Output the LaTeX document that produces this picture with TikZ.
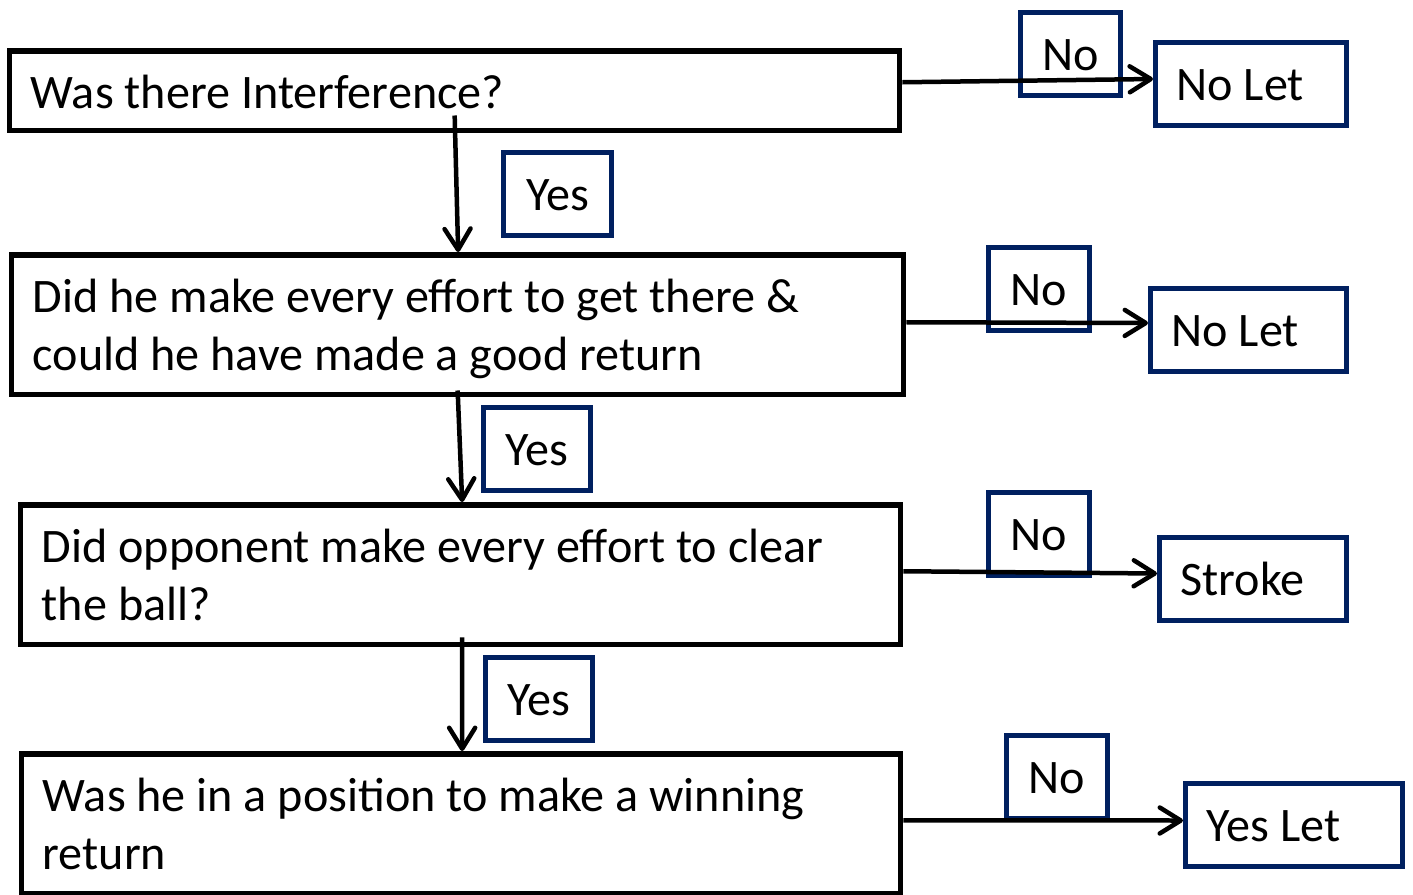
\documentclass[tikz,border=0pt]{standalone}
\usepackage{fontspec}
\setmainfont{Carlito}
\usepackage{tikz}
\usetikzlibrary{arrows.meta}
\definecolor{boxblue}{HTML}{002060}
\tikzset{
>={Straight Barb[length=0.42cm,width=0.52cm,round]}, % open arrow heads
every node/.style={font=\fontsize{27.4}{33}\selectfont, inner ysep=0pt, text height=1.16cm, anchor=north west},
question/.style={draw, line width=0.11cm, inner xsep=0.42cm, align=left, text depth=1.64cm,
  execute at begin node={\spaceskip=\fontdimen2\font}}, % the black question boxes
answer/.style={draw=boxblue, line width=0.1cm, inner xsep=0.42cm, align=left, text depth=0.5cm,
  execute at begin node={\spaceskip=\fontdimen2\font}}, % the outcome boxes
choice/.style={draw=boxblue, line width=0.1cm, inner xsep=0pt, text depth=0.5cm}, % the Yes / No tags
link/.style={->, line width=0.09cm},
}

\begin{document}
\begin{tikzpicture}[x=0.02cm, y=-0.02cm]
                \useasboundingbox (0,0) rectangle (1413,894);

                \node[question, text width=16.96cm, text depth=0.44cm] (q1) at (7,48) {Was there Interference?};
                \node[question, text width=17.0cm] (q2) at (9,252) {Did he make every effort to get there \&\\could he have made a good return};
                \node[question, text width=16.76cm] (q3) at (18,502) {Did opponent make every effort to clear\\the ball?};
                \node[question, text width=16.74cm] (q4) at (19,751) {Was he in a position to make a winning\\return};

                \node[answer, text width=2.98cm] (nolet1) at (1153,40) {No Let};
                \node[answer, text width=3.08cm] (nolet2) at (1148,286) {No Let};
                \node[answer, text width=2.90cm] (stroke) at (1157,535) {Stroke};
                \node[answer, text width=3.50cm] (yeslet) at (1183,781) {Yes Let};

                \node[choice, minimum width=2.0cm] (no1) at (1018,10) {No};
                \node[choice, minimum width=2.02cm] (no2) at (986,245) {No};
                \node[choice, minimum width=2.02cm] (no3) at (986,490) {No};
                \node[choice, minimum width=2.02cm] (no4) at (1004,733) {No};
                \node[choice, minimum width=2.16cm] (yes1) at (501,150) {Yes};
                \node[choice, minimum width=2.14cm] (yes2) at (481,405) {Yes};
                \node[choice, minimum width=2.14cm] (yes3) at (483,655) {Yes};

                \draw[link] ([yshift=0.17cm]q1.east) -- ([yshift=0.1cm]nolet1.west);
                \draw[link] ([yshift=0.05cm]q2.east) -- ([yshift=0.14cm]nolet2.west);
                \draw[link] ([yshift=0.07cm]q3.east) -- ([yshift=0.11cm]stroke.west);
                \draw[link] ([yshift=0.07cm]q4.east) -- ([yshift=0.09cm]yeslet.west);

                \draw[link] ([yshift=0.36cm]q1.south) -- ([xshift=0.01cm]q2.north);
                \draw[link] ([yshift=0.14cm]q2.south) -- ([xshift=0.03cm]q3.north);
                \draw[link] ([xshift=0.03cm,yshift=0.2cm]q3.south) -- ([xshift=0.02cm]q4.north);
\end{tikzpicture}
\end{document}
